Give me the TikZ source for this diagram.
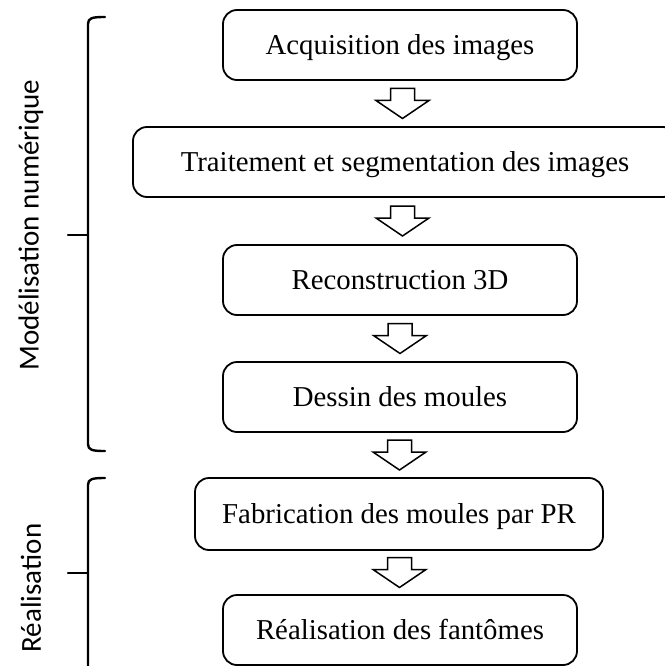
\documentclass[tikz,border=0pt]{standalone}
\usepackage{fontspec}
\setmainfont{Liberation Serif}
\newfontfamily\sidefont{Carlito}
\usetikzlibrary{calc}
\begin{document}
\begin{tikzpicture}[x=1pt,y=-1pt,
  stepbox/.style={draw=black,line width=1.8pt,rounded corners=14pt,fill=white,
    minimum height=70pt,inner sep=0pt,text height=23pt,text depth=4pt,
    font=\fontsize{28.8}{31}\selectfont},
  sidelabel/.style={rotate=90,font=\sidefont\fontsize{29}{32}\selectfont,inner sep=0pt},
  bracket/.style={line width=2.4pt,line cap=round,line join=round},
  blockarrow/.pic={\draw[line width=1.5pt,fill=white,line join=miter]
     (-12,-15) -- (12,-15) -- (12,-3) -- (26.5,-3) -- (0,15) -- (-26.5,-3) -- (-12,-3) -- cycle;}]
\useasboundingbox (0,0) rectangle (664,666);
\node[stepbox,minimum width=354pt] (a) at (400,45) {Acquisition des images};
\node[stepbox,minimum width=544pt] (b) at (405,162) {Traitement et segmentation des images};
\node[stepbox,minimum width=354pt] (c) at (400,280) {Reconstruction 3D};
\node[stepbox,minimum width=354pt] (d) at (400,397) {Dessin des moules};
\node[stepbox,minimum width=408pt,minimum height=72pt] (e) at (399,514) {Fabrication des moules par PR};
\node[stepbox,minimum width=354pt] (f) at (400,630) {Réalisation des fantômes};
\path ($(a.south)!0.5!(b.north)$) pic {blockarrow};
\path ($(b.south)!0.5!(c.north)$) pic {blockarrow};
\path ($(c.south)!0.5!(d.north)$) pic {blockarrow};
\path ($(d.south)!0.5!(e.north)$) pic {blockarrow};
\path ($(e.south)!0.5!(f.north)$) pic {blockarrow};
% brackets
\coordinate (t1) at (105,17);
\coordinate (m1) at (68,235);
\coordinate (b1) at (105,451);
\draw[bracket] (t1) .. controls (92,17) and (88,18) .. (88,24) -- (88,444) .. controls (88,450) and (92,451) .. (b1);
\draw[bracket] (m1) -- (88,235);
\coordinate (t2) at (105,478);
\coordinate (m2) at (68,573);
\draw[bracket] (t2) .. controls (92,478) and (88,479) .. (88,485) -- (88,680);
\draw[bracket] (m2) -- (88,573);
\node[sidelabel] (l1) at (31,225) {Modélisation numérique};
\node[sidelabel] (l2) at (31,588) {Réalisation};
\end{tikzpicture}
\end{document}
